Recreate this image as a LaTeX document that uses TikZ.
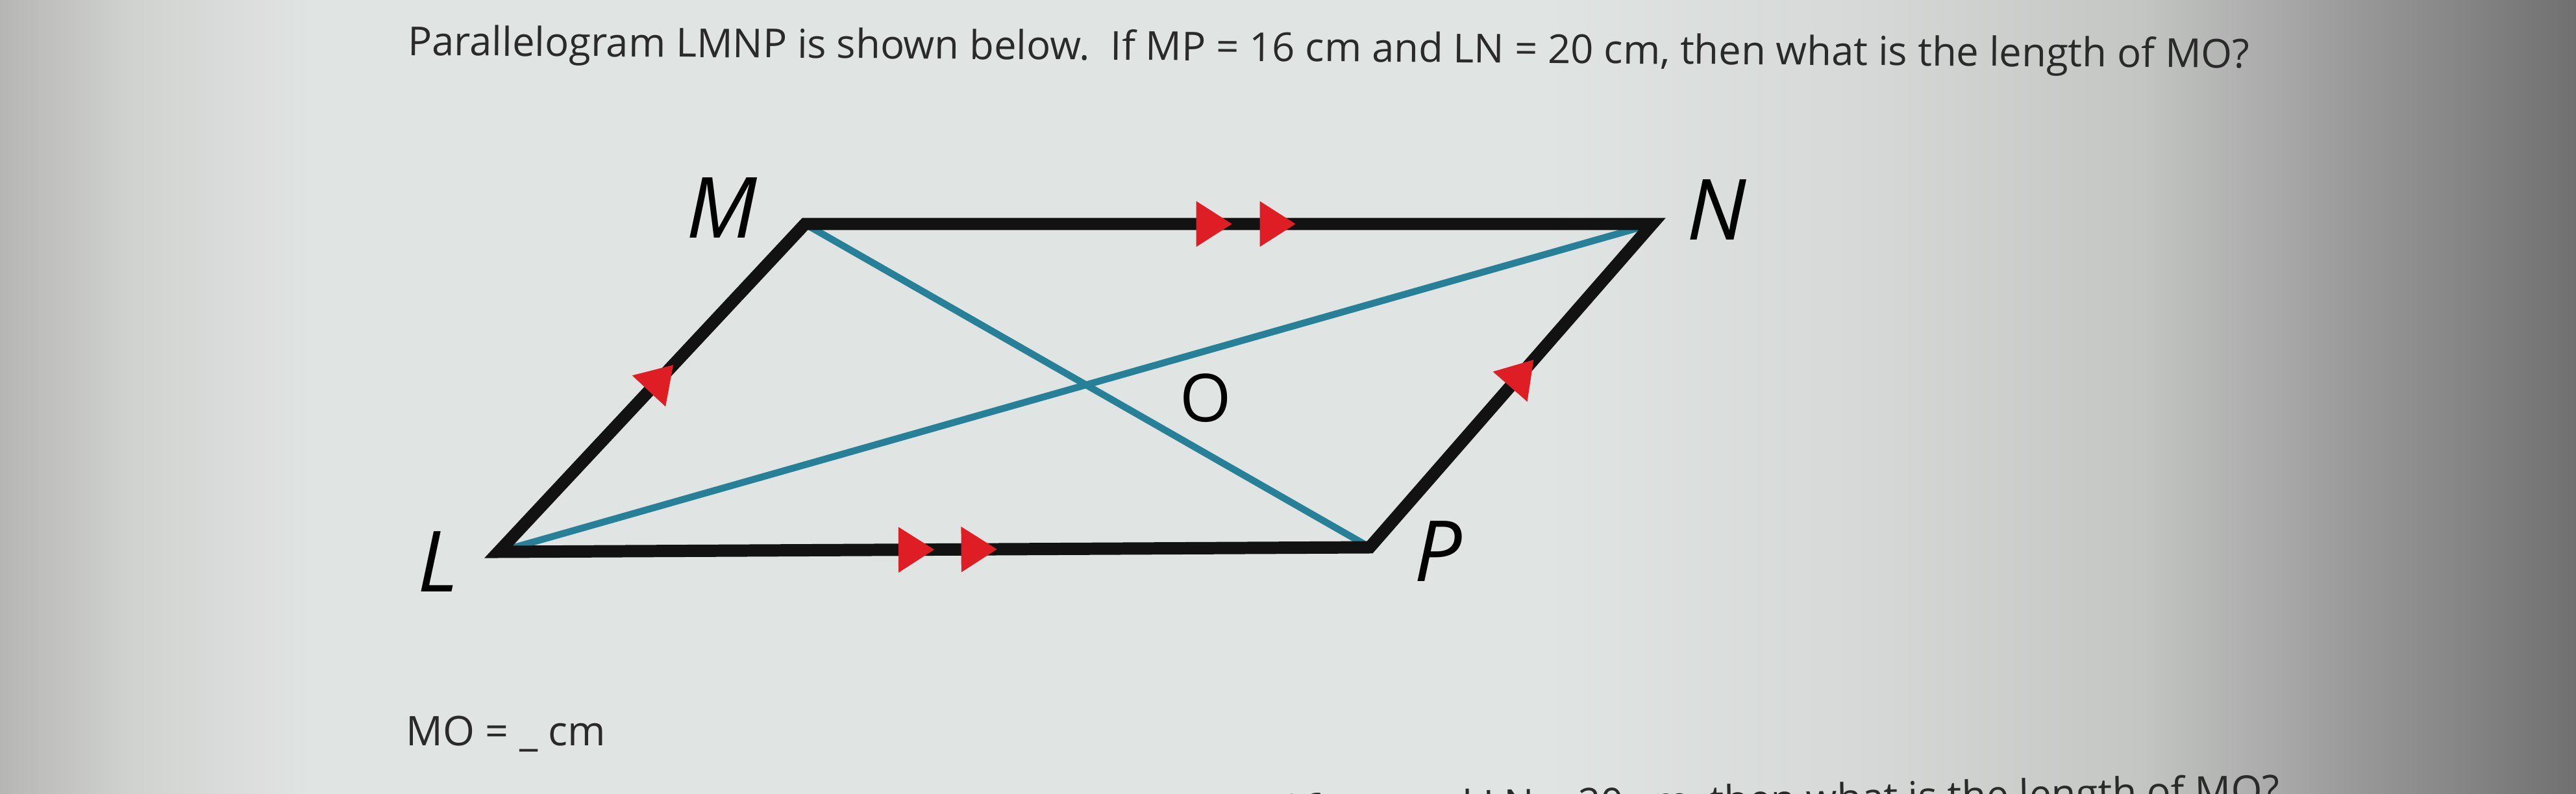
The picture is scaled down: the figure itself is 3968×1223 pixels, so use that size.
\documentclass[tikz,border=0pt]{standalone}
\usepackage{fontspec}
\setmainfont{Open Sans}
\usetikzlibrary{arrows.meta,decorations.markings}

\definecolor{sidegray}{RGB}{18,18,18}
\definecolor{diagblue}{RGB}{38,128,152}
\definecolor{tickred}{RGB}{222,30,36}
\definecolor{inkgray}{RGB}{42,42,42}
\definecolor{bgA}{RGB}{182,182,180}
\definecolor{bgB}{RGB}{208,210,208}
\definecolor{bgC}{RGB}{224,228,226}
\definecolor{bgD}{RGB}{214,217,215}
\definecolor{bgE}{RGB}{196,198,196}
\definecolor{bgF}{RGB}{150,150,150}
\definecolor{bgG}{RGB}{112,112,112}

% background of the photographed screen
\pgfdeclarehorizontalshading{screenglow}{100bp}{color(0bp)=(bgA); color(25bp)=(bgA);
  color(27.5bp)=(bgB); color(31bp)=(bgC); color(55bp)=(bgC); color(61bp)=(bgD);
  color(66.5bp)=(bgE); color(71bp)=(bgF); color(75bp)=(bgG); color(100bp)=(bgG)}

\tikzset{
  redtip/.tip={Triangle[length=5.5mm,width=7mm,color=tickred]},
  side/.style={line width=5.4pt, draw=sidegray, line join=miter},
  diag/.style={line width=3pt, draw=diagblue},
  vlabel/.style={font=\fontsize{37pt}{42pt}\selectfont\itshape, text=black, inner sep=0pt},
  olabel/.style={font=\fontsize{29pt}{34pt}\selectfont, text=black, inner sep=0pt},
  qtext/.style={font=\fontsize{17.5pt}{21pt}\selectfont, text=inkgray, inner sep=0pt},
  onetick/.style={postaction={decorate}, decoration={markings,
    mark=at position #1 with {\arrow{redtip}}}},
  twotick/.style 2 args={postaction={decorate}, decoration={markings,
    mark=at position #1 with {\arrow{redtip}},
    mark=at position #2 with {\arrow{redtip}}}}
}

\begin{document}
\begin{tikzpicture}[x=0.1mm, y=-0.1mm]
  \path[use as bounding box, clip] (0,0) rectangle (3968,1223);
  \shade[shading=screenglow] (0,0) rectangle (3968,1223);

  % vertices
  \coordinate (L) at (768,850);
  \coordinate (M) at (1240,345);
  \coordinate (N) at (2545,345);
  \coordinate (P) at (2110,843);

  % diagonals
  \draw[diag] (M) -- (P);
  \draw[diag] (L) -- (N);

  % sides and parallel marks
  \draw[side] (L) -- (M) -- (N) -- (P) -- cycle;
  \path[twotick={0.504}{0.579}] (M) -- (N);
  \path[twotick={0.5}{0.572}] (L) -- (P);
  \path[onetick=0.57] (L) -- (M);
  \path[onetick=0.58] (P) -- (N);

  % labels
  \node[vlabel] (Mlab) at (1112,320) {M};
  \node[vlabel] (Nlab) at (2644,323) {N};
  \node[vlabel] (Llab) at (675,865) {L};
  \node[vlabel] (Plab) at (2215,849) {P};
  \node[olabel] (Olab) at (1857,613) {O};

  % question and answer lines
  \node[qtext, anchor=base west, rotate=-0.4] (question) at (628,85)
    {Parallelogram LMNP is shown below.\ \ If MP = 16 cm and LN = 20 cm, then what is the length of MO?};
  \node[qtext, anchor=base west, font=\fontsize{17.9pt}{21pt}\selectfont] (answer) at (625,1148)
    {MO = \_ cm};
  \node[qtext, anchor=base east, rotate=1.1] (echo) at (3512,1238)
    {Parallelogram LMNP is shown below.\ \ If MP = 16 cm and LN = 20 cm, then what is the length of MO?};
\end{tikzpicture}
\end{document}
